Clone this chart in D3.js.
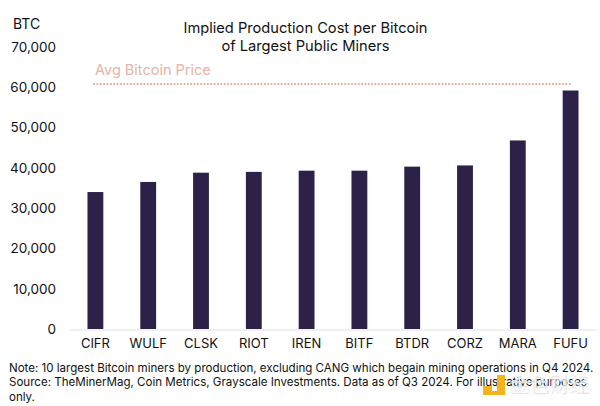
<!DOCTYPE html>
<html><head><meta charset="utf-8">
<script src="https://cdnjs.cloudflare.com/ajax/libs/d3/7.8.5/d3.min.js"></script>
<style>html,body{margin:0;padding:0;background:#fff}svg{display:block}text{font-family:Inter,"Open Sans",sans-serif;fill:#111}</style>
</head><body><svg width="600" height="406"></svg>
<script>
const categories=["CIFR","WULF","CLSK","RIOT","IREN","BITF","BTDR","CORZ","MARA","FUFU"];
const values=[34000,36500,38800,39000,39300,39300,40300,40600,46800,59200];
const avgPrice=60800;
const yTicks=[0,10000,20000,30000,40000,50000,60000,70000];
const titleLines=["Implied Production Cost per Bitcoin","of Largest Public Miners"];
const noteLines=["Note: 10 largest Bitcoin miners by production, excluding CANG which begain mining operations in Q4 2024.","Source: TheMinerMag, Coin Metrics, Grayscale Investments. Data as of Q3 2024. For illustrative purposes","only."];
const watermark="金色财经";
const svg=d3.select("svg");
const x=d3.scaleBand().domain(categories).range([69,597]).paddingInner(0.7).paddingOuter(0.35);
const y=d3.scaleLinear().domain([0,70000]).range([329,47]);
svg.append("g").selectAll("rect").data(categories).join("rect")
 .attr("x",d=>x(d)).attr("width",x.bandwidth()).attr("y",(d,i)=>y(values[i])).attr("height",(d,i)=>y(0)-y(values[i])).attr("fill","#2e2148");
const ax=svg.append("g").attr("transform","translate(0,329.5)").call(d3.axisBottom(x).tickSize(0).tickPadding(9));
ax.select(".domain").attr("stroke","#e2e2e6").attr("stroke-width",1);
ax.selectAll("text").attr("font-size",13).style("font-family","Inter,sans-serif");
const ay=svg.append("g").attr("transform","translate(56,0)").call(d3.axisLeft(y).tickValues(yTicks).tickSize(0).tickPadding(0).tickFormat(d3.format(",")));
ay.select(".domain").remove();
ay.selectAll("text").attr("font-size",13.5).style("font-family","Inter,sans-serif");
svg.append("text").attr("x",13).attr("y",29).attr("font-size",14).text("BTC");
svg.append("g").selectAll("text").data(titleLines).join("text").attr("x",305.5).attr("y",(d,i)=>33+i*18).attr("text-anchor","middle").attr("font-size",14.65).text(d=>d);
svg.append("line").attr("x1",94).attr("x2",570).attr("y1",y(avgPrice)).attr("y2",y(avgPrice)).attr("stroke","#e8a090").attr("stroke-width",2).attr("stroke-linecap","round").attr("stroke-dasharray","0.1 3.25");
svg.append("text").attr("x",95).attr("y",75).attr("font-size",14.5).style("fill","#e6b3a5").text("Avg Bitcoin Price");
svg.append("g").selectAll("text").data(noteLines).join("text").attr("x",9).attr("y",(d,i)=>372+i*14.3).attr("font-size",11.55).text(d=>d);
const wm=svg.append("g");
wm.append("path").attr("d","M483 386h9v9h-9zM492 391h5v-16h8v20h-13z").attr("fill","#f5b31e");
wm.append("text").attr("x",510).attr("y",393).attr("font-size",20).style("font-family","'Noto Sans CJK SC'").style("fill","#d8d8d8").style("stroke","#fff").style("stroke-width",0.5).style("opacity",0.9).text(watermark);
</script></body></html>
